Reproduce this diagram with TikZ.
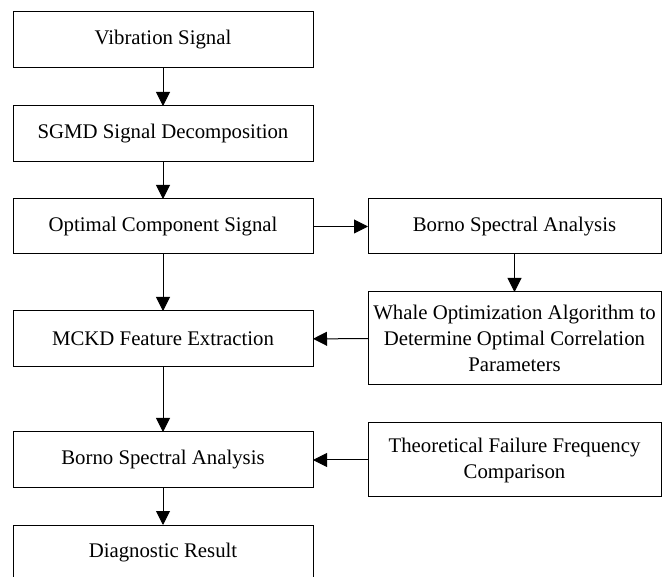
\documentclass[tikz,border=0pt]{standalone}
\usepackage{fontspec}
\setmainfont{Liberation Serif}
\usetikzlibrary{arrows.meta}
\tikzset{box/.style={
    draw, line width=1pt, align=center,
    minimum width=#1, minimum height=56pt,
    inner sep=0pt, outer sep=0pt,
    font=\fontsize{20.8}{26}\selectfont
  },
  box/.default={300pt},
  flow/.style={
    draw, line width=1pt, -{Triangle[length=14pt,width=14pt]}
  }
}
\begin{document}
\begin{tikzpicture}[x=1pt,y=-1pt]
    \useasboundingbox (0,0) rectangle (662,577);
    \clip (0,0) rectangle (662,577);
    \node[box] (vib) at (163,40) {Vibration Signal};
    \node[box] (sgmd) at (163,134) {SGMD Signal Decomposition};
    \node[box,minimum height=55pt] (opt) at (163,226.5) {Optimal Component Signal};
    \node[box] (mckd) at (163,339) {MCKD Feature Extraction};
    \node[box] (borno) at (163,460) {Borno Spectral Analysis};
    \node[box] (diag) at (163,553) {Diagnostic Result};

    \node[box=293pt,minimum height=55pt] (rborno) at (514.5,226.5) {Borno Spectral Analysis};
    \node[box=293pt,minimum height=93pt] (whale) at (514.5,338.5) {Whale Optimization Algorithm to\\Determine Optimal Correlation\\Parameters};
    \node[box=293pt,minimum height=74pt] (theo) at (514.5,460) {Theoretical Failure Frequency\\Comparison};

    \draw[flow] (vib) -- (sgmd);
    \draw[flow] (sgmd) -- (opt);
    \draw[flow] (opt) -- (mckd);
    \draw[flow] (mckd) -- (borno);
    \draw[flow] (borno) -- (diag);
    \draw[flow] (opt) -- (rborno);
    \draw[flow] (rborno) -- (whale);
    \draw[flow] (whale) -- (mckd);
    \draw[flow] (theo) -- (borno);
\end{tikzpicture}
\end{document}
